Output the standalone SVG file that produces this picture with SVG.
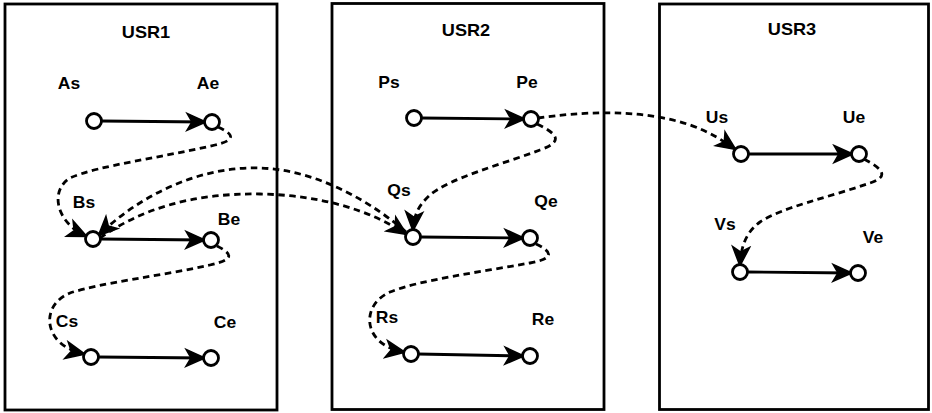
<svg xmlns="http://www.w3.org/2000/svg" width="932" height="413" viewBox="0 0 932 413">
  <style>
    .box { fill: #ffffff; stroke: #000000; stroke-width: 2.8; }
    .pt { fill: #ffffff; stroke: #000000; stroke-width: 2.8; }
    .title { font-family: "Liberation Sans", Arial, Helvetica, sans-serif; font-weight: bold; font-size: 16.5px; text-anchor: middle; fill: #000000; }
    .lbl { font-family: "Liberation Sans", Arial, Helvetica, sans-serif; font-weight: bold; font-size: 16.5px; text-anchor: middle; fill: #000000; }
    .seq { fill: none; stroke: #000000; stroke-width: 2.8; marker-end: url(#head); }
    .link { fill: none; stroke: #000000; stroke-width: 2.8; stroke-dasharray: 6.5 4.5; marker-end: url(#head); }
  </style>
  <defs>
    <marker id="head" markerUnits="userSpaceOnUse" viewBox="-2 -2 23 21" markerWidth="23" markerHeight="21" refX="18" refY="8.5" orient="auto">
      <path d="M0,0 L19,8.5 L0,17 L5,8.5 Z" fill="#000000" stroke="#000000" stroke-width="1.5" stroke-linejoin="miter"/>
    </marker>
  </defs>

  <!-- user swimlanes -->
  <g id="usr1">
    <rect class="box" x="5" y="4" width="272" height="406"/>
    <text class="title" transform="translate(146,38) scale(1.1,1)">USR1</text>
  </g>
  <g id="usr2">
    <rect class="box" x="332" y="3.5" width="272" height="406"/>
    <text class="title" transform="translate(466,36) scale(1.1,1)">USR2</text>
  </g>
  <g id="usr3">
    <rect class="box" x="659.5" y="4" width="269" height="405.5"/>
    <text class="title" transform="translate(792,35) scale(1.1,1)">USR3</text>
  </g>

  <!-- connectors -->
  <g id="connectors">
    <!-- start -> end within each task -->
    <path class="seq" d="M101,121 L205,122"/>
    <path class="seq" d="M100,239 L204,240"/>
    <path class="seq" d="M98,357 L204,358"/>
    <path class="seq" d="M421,118 L524,119"/>
    <path class="seq" d="M420,237 L523,238"/>
    <path class="seq" d="M418,354 L523,356"/>
    <path class="seq" d="M748,154 L852,154"/>
    <path class="seq" d="M747,272 L851,273"/>

    <!-- dependencies between tasks -->
    <path class="link" d="M218,127 C238,136 232,141 215,145 C160,158 100,165 70,178 C50,190 55,222 86,236"/>
    <path class="link" d="M217,246 C235,255 232,260 210,265 C160,276 100,283 70,293 C40,305 42,345 84,354"/>
    <path class="link" d="M536,244 C555,253 552,259 530,263 C480,272 420,280 390,292 C360,305 362,345 404,352"/>
    <path class="link" d="M537,124 C560,135 562,142 540,150 C500,165 450,178 430,195 C418,206 414,215 413,230"/>
    <path class="link" d="M538,118 C580,112 640,108 690,125 C710,132 722,140 735,149"/>
    <path class="link" d="M864,159 C885,170 888,177 870,183 C830,197 780,208 760,222 C745,233 741,248 740,265"/>
    <path class="link" d="M406,232 C375,205 320,170 260,168 C200,166 140,195 99,235"/>
    <path class="link" d="M100,238 C140,210 190,193 260,194 C320,195 370,210 406,234"/>
  </g>

  <!-- task start / end points -->
  <g id="As"><circle class="pt" cx="94" cy="121" r="7.5"/><text class="lbl" transform="translate(69,89) scale(1.06,1)">As</text></g>
  <g id="Ae"><circle class="pt" cx="212" cy="122" r="7.5"/><text class="lbl" transform="translate(208,89) scale(1.06,1)">Ae</text></g>
  <g id="Bs"><circle class="pt" cx="93" cy="239" r="7.5"/><text class="lbl" transform="translate(84,208) scale(1.06,1)">Bs</text></g>
  <g id="Be"><circle class="pt" cx="211" cy="240" r="7.5"/><text class="lbl" transform="translate(229,225) scale(1.06,1)">Be</text></g>
  <g id="Cs"><circle class="pt" cx="91" cy="357" r="7.5"/><text class="lbl" transform="translate(67,327) scale(1.06,1)">Cs</text></g>
  <g id="Ce"><circle class="pt" cx="211" cy="358" r="7.5"/><text class="lbl" transform="translate(225,328) scale(1.06,1)">Ce</text></g>

  <g id="Ps"><circle class="pt" cx="414" cy="118" r="7.5"/><text class="lbl" transform="translate(389,88) scale(1.06,1)">Ps</text></g>
  <g id="Pe"><circle class="pt" cx="531" cy="119" r="7.5"/><text class="lbl" transform="translate(527,88) scale(1.06,1)">Pe</text></g>
  <g id="Qs"><circle class="pt" cx="413" cy="237" r="7.5"/><text class="lbl" transform="translate(399,196) scale(1.06,1)">Qs</text></g>
  <g id="Qe"><circle class="pt" cx="530" cy="238" r="7.5"/><text class="lbl" transform="translate(546,207) scale(1.06,1)">Qe</text></g>
  <g id="Rs"><circle class="pt" cx="411" cy="354" r="7.5"/><text class="lbl" transform="translate(387,323) scale(1.06,1)">Rs</text></g>
  <g id="Re"><circle class="pt" cx="530" cy="356" r="7.5"/><text class="lbl" transform="translate(543,325) scale(1.06,1)">Re</text></g>

  <g id="Us"><circle class="pt" cx="741" cy="154" r="7.5"/><text class="lbl" transform="translate(717,123) scale(1.06,1)">Us</text></g>
  <g id="Ue"><circle class="pt" cx="859" cy="154" r="7.5"/><text class="lbl" transform="translate(854,123) scale(1.06,1)">Ue</text></g>
  <g id="Vs"><circle class="pt" cx="740" cy="272" r="7.5"/><text class="lbl" transform="translate(725,230) scale(1.06,1)">Vs</text></g>
  <g id="Ve"><circle class="pt" cx="858" cy="273" r="7.5"/><text class="lbl" transform="translate(873,243) scale(1.06,1)">Ve</text></g>
</svg>
